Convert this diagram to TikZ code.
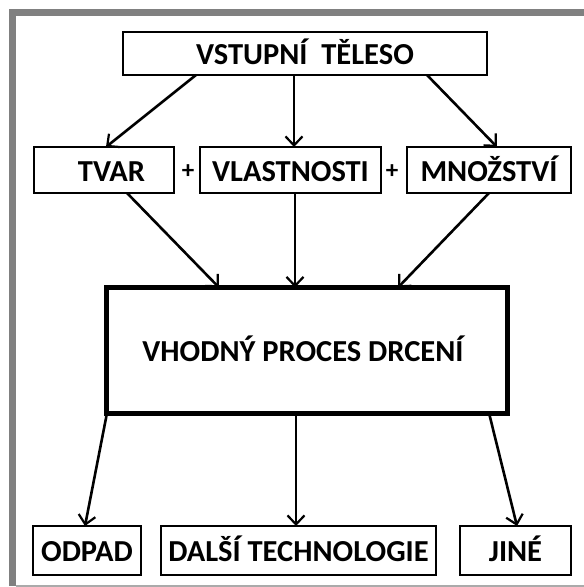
\documentclass[tikz,border=0pt]{standalone}
\usepackage{fontspec}
\setmainfont{Carlito}
\usetikzlibrary{arrows.meta}
\definecolor{framegray}{RGB}{128,128,128}
\definecolor{linegray}{RGB}{170,170,170}
\begin{document}
\begin{tikzpicture}[x=1pt,y=-1pt,
  box/.style={draw=black,line width=2.5pt,inner sep=0pt,outer sep=0pt,
    text height=22.6pt,text depth=0pt,
    font=\fontsize{30.5pt}{31pt}\selectfont\bfseries},
  bigbox/.style={box,line width=5pt},
  plus/.style={inner sep=0pt,font=\fontsize{25pt}{25pt}\selectfont\bfseries},
  arr/.style={line width=2.6pt,-{Straight Barb[length=9pt,width=17pt,line width=2.2pt]}},
]
\useasboundingbox (0,0) rectangle (584,587);
% frame
\draw[framegray,line width=7pt] (12.5,586) -- (12.5,12.5) -- (584,12.5);
\draw[linegray,line width=2pt] (16,585.5) -- (584,585.5);

% nodes
\node[box,minimum width=364pt,minimum height=43pt] (top) at (305,53.5) {VSTUPNÍ\ \ TĚLESO};
\node[box,minimum width=140pt,minimum height=46pt] (tvar) at (104,170) {\hspace*{15pt}TVAR};
\node[box,minimum width=181pt,minimum height=46pt] (vlast) at (290.5,170) {VLASTNOSTI};
\node[box,minimum width=164pt,minimum height=46pt] (mnoz) at (489,170) {MNOŽSTVÍ};
\node[plus] (p1) at (188,172) {+};
\node[plus] (p2) at (392,172) {+};
\node[bigbox,minimum width=401pt,minimum height=125.5pt] (big) at (307,350.25) {VHODNÝ PROCES DRCENÍ\hspace*{8pt}};
\node[box,minimum width=108pt,minimum height=49pt] (odpad) at (87,550.5) {ODPAD};
\node[box,minimum width=275pt,minimum height=49pt] (dalsi) at (298.5,550.5) {DALŠÍ TECHNOLOGIE};
\node[box,minimum width=111pt,minimum height=49pt] (jine) at (515.5,550.5) {JINÉ};

% connectors
\draw[arr] ([xshift=73pt]top.south west) -- ([xshift=72pt]tvar.north west);
\draw[arr] ([xshift=-11pt]top.south) -- ([xshift=3.5pt]vlast.north);
\draw[arr] ([xshift=-60pt]top.south east) -- ([xshift=-74pt]mnoz.north east);
\draw[arr] ([xshift=93pt]tvar.south west) -- ([xshift=112.5pt]big.north west);
\draw[arr] ([xshift=4.5pt]vlast.south) -- ([xshift=-12pt]big.north);
\draw[arr] ([xshift=-82pt]mnoz.south east) -- ([xshift=-109.5pt]big.north east);
\draw[arr] ([xshift=0.5pt]big.south west) -- ([xshift=52pt]odpad.north west);
\draw[arr] ([xshift=-11pt]big.south) -- ([xshift=-2.5pt]dalsi.north);
\draw[arr] ([xshift=-18.5pt]big.south east) -- ([xshift=-54pt]jine.north east);
\end{tikzpicture}
\end{document}
